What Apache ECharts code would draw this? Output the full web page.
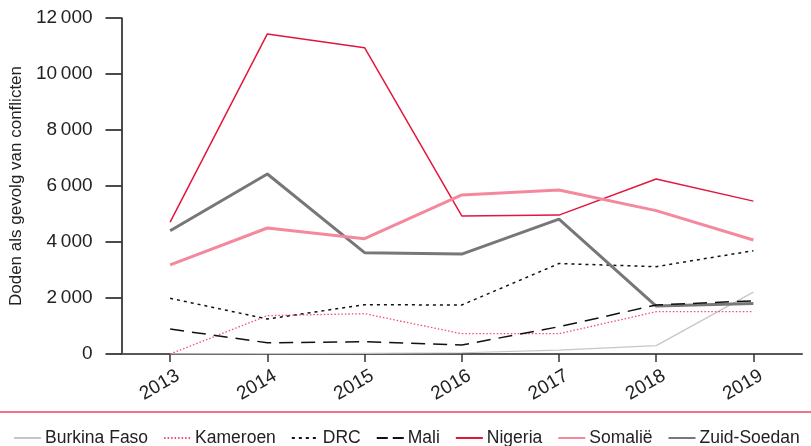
<!DOCTYPE html>
<html>
<head>
<meta charset="utf-8">
<script src="https://cdn.jsdelivr.net/npm/echarts@6/dist/echarts.min.js"></script>
<style>
html,body{margin:0;padding:0;background:#fff;}
#chart{width:811px;height:446px;}
</style>
</head>
<body>
<div id="chart"></div>
<script>
var years = ['2013','2014','2015','2016','2017','2018','2019'];
var burkinaFaso = [5, 10, 20, 45, 140, 300, 2210];
var kameroen = [0, 1370, 1440, 725, 725, 1510, 1510];
var drc = [1990, 1250, 1760, 1750, 3230, 3120, 3690];
var mali = [890, 400, 440, 320, 975, 1750, 1900];
var nigeria = [4710, 11430, 10940, 4930, 4960, 6250, 5460];
var somalie = [3180, 4500, 4120, 5680, 5860, 5120, 4070];
var zuidSoedan = [4400, 6430, 3620, 3570, 4820, 1710, 1800];
var yTicks = {min: 0, max: 12000, interval: 2000};
var yName = 'Doden als gevolg van conflicten';

var FONT = '"Liberation Sans", Arial, sans-serif';
var chart = echarts.init(document.getElementById('chart'), null, {renderer: 'canvas'});

function ser(name, data, color, width, type) {
  return {
    name: name, type: 'line', data: data, symbol: 'none', silent: true,
    lineStyle: {color: color, width: width, type: type || 'solid'},
    itemStyle: {color: color}
  };
}

chart.setOption({
  animation: false,
  grid: {left: 121, right: 9, top: 18, bottom: 92, containLabel: false},
  xAxis: {
    type: 'category', data: years, boundaryGap: true,
    axisLine: {show: true, lineStyle: {color: '#58585a', width: 2}},
    axisTick: {show: true, alignWithLabel: true, length: 8, lineStyle: {color: '#333', width: 1.5}},
    axisLabel: {rotate: 30, margin: 25, fontSize: 19, color: '#222', fontFamily: FONT, padding: [0, -9, 0, 0]}
  },
  yAxis: {
    type: 'value', min: yTicks.min, max: yTicks.max, interval: yTicks.interval,
    name: yName, nameLocation: 'middle', nameGap: 94,
    nameTextStyle: {fontSize: 17, color: '#222', fontFamily: FONT},
    axisLine: {show: true, lineStyle: {color: '#111', width: 1.5}},
    axisTick: {show: true, length: 16, lineStyle: {color: '#111', width: 1.5}},
    splitLine: {show: false},
    axisLabel: {
      margin: 29, fontSize: 19, color: '#222', fontFamily: FONT,
      formatter: function (v) {
        if (v >= 1000) { return Math.floor(v / 1000) + '\u2009' + '000'; }
        return String(v);
      }
    }
  },
  legend: {
    top: 429, left: 13, padding: 0, itemWidth: 27, itemHeight: 18, itemGap: 15,
    itemStyle: {opacity: 0},
    textStyle: {fontSize: 17.5, color: '#222', fontFamily: FONT, padding: [0, 0, 0, -1]},
    data: ['Burkina Faso','Kameroen','DRC',
      {name: 'Mali', lineStyle: {type: [11, 5]}},
      'Nigeria','Somalië','Zuid-Soedan']
  },
  graphic: [{
    type: 'line', shape: {x1: 0, y1: 412, x2: 811, y2: 412},
    style: {stroke: '#e8455f', lineWidth: 1.5}
  }],
  series: [
    ser('Burkina Faso', burkinaFaso, '#c6c6c6', 1.2),
    ser('Kameroen', kameroen, '#f0506e', 1.3, [1.5, 2]),
    ser('DRC', drc, '#111', 1.5, [3, 4]),
    ser('Zuid-Soedan', zuidSoedan, '#77777a', 3),
    ser('Mali', mali, '#111', 1.5, [14, 8]),
    ser('Nigeria', nigeria, '#e3173e', 1.5),
    ser('Somalië', somalie, '#f4899d', 3)
  ]
});
</script>
</body>
</html>
